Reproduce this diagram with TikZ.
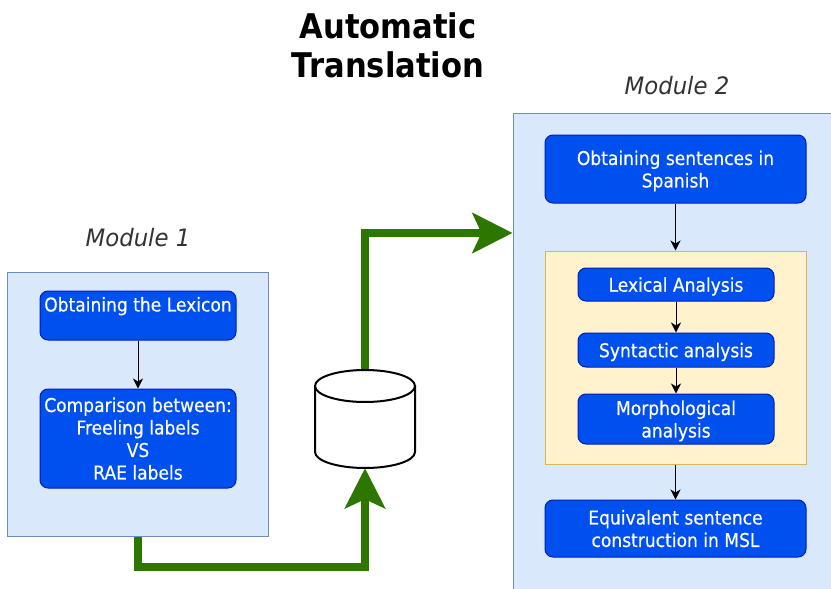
\documentclass[tikz,border=0pt]{standalone}
\usepackage{fontspec}
\setmainfont{DejaVu Sans}[FakeStretch=0.9]
\newfontfamily\boxfont{DejaVu Sans}[FakeStretch=0.9, FakeBold=0.4]
\newfontfamily\labelfont{DejaVu Sans}[FakeStretch=0.95]
\usetikzlibrary{arrows.meta}

\definecolor{modfill}{HTML}{DAE8FC}
\definecolor{modstroke}{HTML}{6C8EBF}
\definecolor{bluefill}{HTML}{0050EF}
\definecolor{bluestroke}{HTML}{001DBC}
\definecolor{yelfill}{HTML}{FFF2CC}
\definecolor{yelstroke}{HTML}{D6B656}
\definecolor{flowgreen}{HTML}{2D7600}
\definecolor{labelgray}{HTML}{333333}

\tikzset{
  modbox/.style={draw=modstroke, fill=modfill, line width=1pt, inner sep=0pt},
  groupbox/.style={draw=yelstroke, fill=yelfill, line width=1pt, inner sep=0pt},
  bluebox/.style={draw=bluestroke, fill=bluefill, rounded corners=8pt, text=white,
    align=center, inner sep=0pt, line width=1pt, text depth=0pt,
    font=\boxfont\fontsize{19}{22.5}\selectfont},
  modlabel/.style={font=\labelfont\itshape\fontsize{24}{28}\selectfont, text=labelgray, inner sep=0pt},
  flow/.style={-{Stealth[length=10pt,width=10pt,inset=3pt]}, line width=1pt, black},
  bigflow/.style={draw=flowgreen, line width=8pt,
    -{Stealth[length=40pt,width=40pt,inset=9pt]}},
  dbshape/.style={draw=black, fill=white, line width=2pt}
}

\begin{document}
\begin{tikzpicture}[x=1pt, y=-1pt]
\clip (0,0) rectangle (831,589);

% title
\node[font=\bfseries\fontsize{34}{39}\selectfont, align=center, inner sep=0pt] (title) at (388,45)
  {Automatic\\Translation};

% module 1
\node[modlabel] (m1lab) at (138,238) {Module 1};
\node[modbox, minimum width=261pt, minimum height=264pt] (m1) at (137.5,404) {};
\node[bluebox, minimum width=196pt, minimum height=49pt] (lex) at (138,315.5)
  {Obtaining the Lexicon\\\strut};
\node[bluebox, minimum width=196pt, minimum height=99pt] (cmp) at (138,438.5)
  {Comparison between:\\Freeling labels\\VS\\RAE labels};
\draw[flow] (lex) -- (cmp);

% module 2
\node[modlabel] (m2lab) at (677,86) {Module 2};
\node[modbox, minimum width=337pt, minimum height=487pt] (m2) at (681.5,356.5) {};
\node[bluebox, minimum width=261pt, minimum height=68pt] (sent) at (675.5,169)
  {Obtaining sentences in\\Spanish};
\node[groupbox, minimum width=261pt, minimum height=213pt] (grp) at (675.5,357.5) {};
\node[bluebox, minimum width=196pt, minimum height=33pt] (lexa) at (676,284.5)
  {Lexical Analysis};
\node[bluebox, minimum width=196pt, minimum height=34pt] (synt) at (676,350)
  {Syntactic analysis};
\node[bluebox, minimum width=196pt, minimum height=50pt] (morph) at (676,419)
  {Morphological\\analysis};
\node[bluebox, minimum width=261pt, minimum height=57pt] (equiv) at (675.5,528.5)
  {Equivalent sentence\\construction in MSL};
\draw[flow] (sent) -- (grp);
\draw[flow] (lexa) -- (synt);
\draw[flow] (synt) -- (morph);
\draw[flow] (grp) -- (equiv);

% database
\node[minimum width=100pt, minimum height=98pt, inner sep=0pt] (db) at (365,419) {};
\coordinate (g1) at (137.5,567);
\coordinate (g2) at (365,233);
\draw[bigflow] (m1.south) -- (g1) -| (db.south);
\draw[bigflow] (db.north) -- (g2) -- (g2 -| m2.west);

\path[dbshape] (315,386) -- (315,452)
  arc[start angle=180, end angle=0, x radius=50, y radius=16] -- (415,386) -- cycle;
\draw[dbshape] (365,386) ellipse[x radius=50, y radius=16];
\end{tikzpicture}
\end{document}
